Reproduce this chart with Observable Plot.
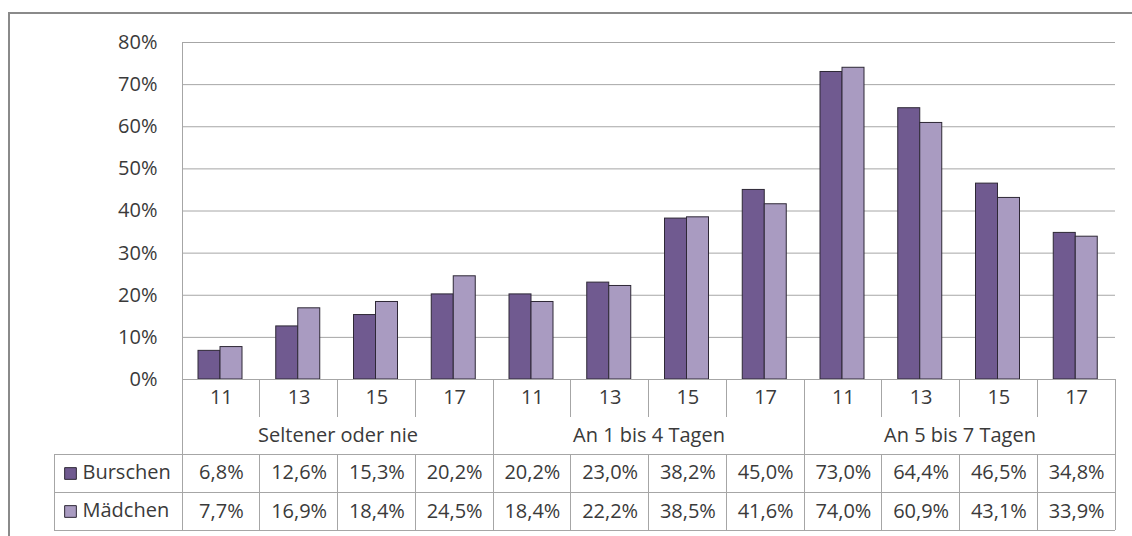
<!DOCTYPE html>
<html>
<head>
<meta charset="utf-8">
<script src="https://cdn.jsdelivr.net/npm/d3@7"></script>
<script src="https://cdn.jsdelivr.net/npm/@observablehq/plot@0.6"></script>
<style>
  html, body { margin: 0; padding: 0; background: #fff; }
  #chart { width: 1132px; height: 536px; overflow: hidden; }
</style>
</head>
<body>
<div id="chart"></div>
<script>
const groups = ["Seltener oder nie", "An 1 bis 4 Tagen", "An 5 bis 7 Tagen"];
const ages = ["11", "13", "15", "17"];
const series = ["Burschen", "Mädchen"];
const burschen = [6.8, 12.6, 15.3, 20.2, 20.2, 23.0, 38.2, 45.0, 73.0, 64.4, 46.5, 34.8];
const maedchen = [7.7, 16.9, 18.4, 24.5, 18.4, 22.2, 38.5, 41.6, 74.0, 60.9, 43.1, 33.9];
const yTicks = [0, 10, 20, 30, 40, 50, 60, 70, 80];
const colors = ["#705a90", "#a99bc1"];

const keys = [];
groups.forEach(g => ages.forEach(a => keys.push(g + "|" + a)));
const data = [];
keys.forEach((k, i) => {
  data.push({key: k, group: k.split("|")[0], age: k.split("|")[1], sex: series[0], value: burschen[i]});
  data.push({key: k, group: k.split("|")[0], age: k.split("|")[1], sex: series[1], value: maedchen[i]});
});
const fmt = v => d3.format(".1f")(v).replace(".", ",") + "%";
const textColor = "#3a3a3a";
const lineColor = "#a6a6a6";

const BW = (1132 - 182 - 17) / keys.length;
const marks = [
  Plot.gridY({ticks: yTicks, stroke: lineColor, strokeOpacity: 1}),
  Plot.axisY({ticks: yTicks, tickFormat: d => d + "%", tickSize: 0, tickPadding: 25, fill: textColor, label: null}),
  Plot.barY(data.filter(d => d.sex === series[0]), {x: "key", y: "value", fill: "sex", stroke: "#2e2836", strokeWidth: 1, insetLeft: 16, insetRight: BW - 38}),
  Plot.barY(data.filter(d => d.sex === series[1]), {x: "key", y: "value", fill: "sex", stroke: "#2e2836", strokeWidth: 1, insetLeft: 38, insetRight: BW - 60}),
  Plot.text(keys, {x: d => d, text: d => d.split("|")[1], frameAnchor: "bottom", lineAnchor: "middle", dy: 18, fill: textColor}),
  Plot.text(groups, {x: g => g + "|" + ages[2], text: d => d, frameAnchor: "bottom", lineAnchor: "middle", dx: -BW / 2, dy: 56, fill: textColor}),
  Plot.text(data.filter(d => d.sex === series[0]), {x: "key", text: d => fmt(d.value), frameAnchor: "bottom", lineAnchor: "middle", dy: 93, fill: textColor}),
  Plot.text(data.filter(d => d.sex === series[1]), {x: "key", text: d => fmt(d.value), frameAnchor: "bottom", lineAnchor: "middle", dy: 132, fill: textColor})
];
series.forEach((s, i) => {
  marks.push(Plot.dot([s], {fill: d => d, symbol: "square", r: 6.6, stroke: "#2e2836", strokeWidth: 1, frameAnchor: "bottom-left", dx: -112, dy: 94 + i * 38}));
  marks.push(Plot.text([s], {text: d => d, frameAnchor: "bottom-left", textAnchor: "start", lineAnchor: "middle", dx: -100, dy: 93 + i * 38, fill: textColor}));
});

const chart = Plot.plot({
  width: 1132,
  height: 536,
  marginLeft: 182,
  marginRight: 17,
  marginTop: 42,
  marginBottom: 157,
  style: {fontFamily: "'Open Sans', sans-serif", fontSize: "20px", background: "#fff", overflow: "visible"},
  x: {domain: keys, padding: 0, round: false, axis: null},
  y: {domain: [0, 80], axis: null},
  color: {domain: series, range: colors},
  marks
});

// table and frame lines, positioned from the chart's own x scale
const svg = d3.select(chart);
const xs = chart.scale("x");
const bw = xs.bandwidth;
const x0 = xs.apply(keys[0]);
const xEnd = xs.apply(keys[keys.length - 1]) + bw;
const bounds = keys.map(k => xs.apply(k)).concat([xEnd]);
const g = svg.append("g").attr("stroke", lineColor).attr("stroke-width", 1).attr("shape-rendering", "crispEdges");
const yBase = 379, yTicksBottom = 417, yT1 = 454, yT2 = 492, yT3 = 530, xLeg = 54;
g.append("line").attr("x1", x0).attr("x2", x0).attr("y1", 42).attr("y2", yT3);
g.append("line").attr("x1", x0).attr("x2", xEnd).attr("y1", yBase).attr("y2", yBase);
[yT1, yT2, yT3].forEach(y => g.append("line").attr("x1", xLeg).attr("x2", xEnd).attr("y1", y).attr("y2", y));
g.append("line").attr("x1", xLeg).attr("x2", xLeg).attr("y1", yT1).attr("y2", yT3);
bounds.forEach((b, i) => {
  if (i === 0) return;
  const isGroup = i % ages.length === 0;
  if (isGroup) {
    g.append("line").attr("x1", b).attr("x2", b).attr("y1", yBase).attr("y2", yT3);
  } else {
    g.append("line").attr("x1", b).attr("x2", b).attr("y1", yBase).attr("y2", yTicksBottom);
    g.append("line").attr("x1", b).attr("x2", b).attr("y1", yT1).attr("y2", yT3);
  }
});
svg.append("rect").attr("x", 9).attr("y", 13).attr("width", 1200).attr("height", 600)
  .attr("fill", "none").attr("stroke", "#8a8a8a").attr("stroke-width", 2);

document.getElementById("chart").appendChild(chart);
</script>
</body>
</html>
